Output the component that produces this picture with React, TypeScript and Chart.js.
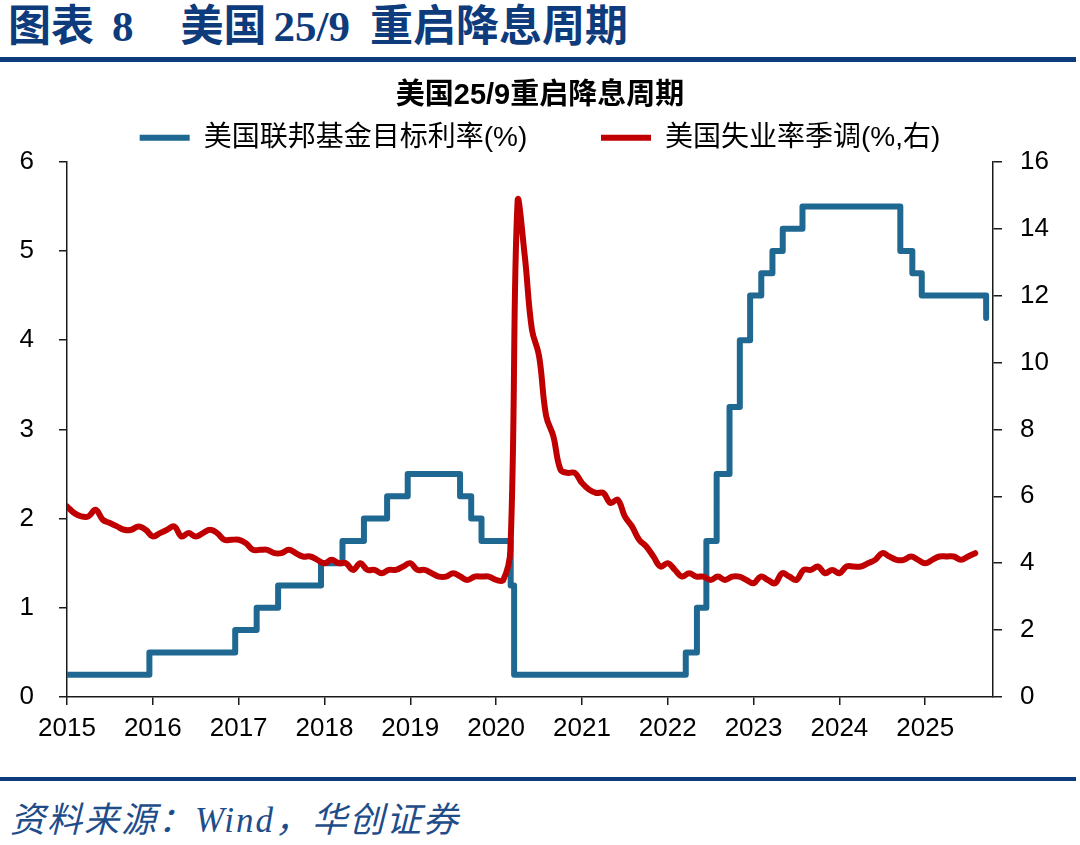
import { useEffect, useRef } from 'react';
import { Chart, registerables } from 'chart.js';

Chart.register(...registerables);

// Fed funds target rate (upper bound, %) — dates of change (decimal years) and new level
const fedChangeDates = [
  2015.0, 2015.96, 2016.96, 2017.21, 2017.46, 2017.96, 2018.21, 2018.46, 2018.73, 2018.97,
  2019.58, 2019.71, 2019.83, 2020.17, 2020.21, 2022.21, 2022.34, 2022.45, 2022.57, 2022.72,
  2022.84, 2022.96, 2023.09, 2023.22, 2023.34, 2023.57, 2024.71, 2024.85, 2024.96, 2025.71,
];
const fedTargetRates = [
  0.25, 0.5, 0.75, 1.0, 1.25, 1.5, 1.75, 2.0, 2.25, 2.5,
  2.25, 2.0, 1.75, 1.25, 0.25, 0.5, 1.0, 1.75, 2.5, 3.25,
  4.0, 4.5, 4.75, 5.0, 5.25, 5.5, 5.0, 4.75, 4.5, 4.25,
];

// US unemployment rate, seasonally adjusted (%), monthly from Jan of each year
const unemp2015 = [5.7, 5.5, 5.4, 5.4, 5.6, 5.3, 5.2, 5.1, 5.0, 5.0, 5.1, 5.0];
const unemp2016 = [4.8, 4.9, 5.0, 5.1, 4.8, 4.9, 4.8, 4.9, 5.0, 4.9, 4.7, 4.7];
const unemp2017 = [4.7, 4.6, 4.4, 4.4, 4.4, 4.3, 4.3, 4.4, 4.3, 4.2, 4.2, 4.1];
const unemp2018 = [4.0, 4.1, 4.0, 4.0, 3.8, 4.0, 3.8, 3.8, 3.7, 3.8, 3.8, 3.9];
const unemp2019 = [4.0, 3.8, 3.8, 3.7, 3.6, 3.6, 3.7, 3.6, 3.5, 3.6, 3.6, 3.6];
const unemp2020 = [3.5, 3.5, 4.4, 14.8, 13.2, 11.0, 10.2, 8.4, 7.8, 6.8, 6.7, 6.7];
const unemp2021 = [6.4, 6.2, 6.1, 6.1, 5.8, 5.9, 5.4, 5.1, 4.7, 4.5, 4.2, 3.9];
const unemp2022 = [4.0, 3.8, 3.6, 3.7, 3.6, 3.6, 3.5, 3.6, 3.5, 3.6, 3.6, 3.5];
const unemp2023 = [3.4, 3.6, 3.5, 3.4, 3.7, 3.6, 3.5, 3.8, 3.8, 3.9, 3.7, 3.8];
const unemp2024 = [3.7, 3.9, 3.9, 3.9, 4.0, 4.1, 4.3, 4.2, 4.1, 4.1, 4.2, 4.1];
const unemp2025 = [4.0, 4.1, 4.2, 4.2, 4.2, 4.1, 4.2, 4.3];

const unempYears = [2015, 2016, 2017, 2018, 2019, 2020, 2021, 2022, 2023, 2024, 2025];
const unempByYear = [
  unemp2015, unemp2016, unemp2017, unemp2018, unemp2019, unemp2020,
  unemp2021, unemp2022, unemp2023, unemp2024, unemp2025,
];

const xMin = 2015;
const xMax = 2025.79;
const leftMin = 0;
const leftMax = 6;
const rightMin = 0;
const rightMax = 16;

const seriesFed = '美国联邦基金目标利率(%)';
const seriesUnemp = '美国失业率季调(%,右)';
const chartTitle = '美国25/9重启降息周期';

const FONT = "'Liberation Sans', 'Noto Sans CJK SC', sans-serif";

export default function App() {
  const canvasRef = useRef<HTMLCanvasElement | null>(null);

  useEffect(() => {
    if (!canvasRef.current) return;
    const fedData = fedChangeDates.map((x, i) => ({ x, y: fedTargetRates[i] }));
    const unempData: { x: number; y: number }[] = [];
    unempYears.forEach((yr, k) => {
      unempByYear[k].forEach((v, m) => unempData.push({ x: yr + m / 12, y: v }));
    });

    const axisColor = '#1a1a1a';
    const chart = new Chart(canvasRef.current, {
      type: 'line',
      data: {
        datasets: [
          {
            label: seriesFed + '\u3000\u3000 ',
            data: fedData,
            yAxisID: 'y',
            stepped: 'before',
            borderColor: '#1f6891',
            backgroundColor: '#1f6891',
            borderWidth: 6,
            pointRadius: 0,
            borderCapStyle: 'round',
            borderJoinStyle: 'round',
            order: 2,
          },
          {
            label: seriesUnemp,
            data: unempData,
            yAxisID: 'y1',
            borderColor: '#c00000',
            backgroundColor: '#c00000',
            borderWidth: 6,
            pointRadius: 0,
            tension: 0.4,
            borderCapStyle: 'round',
            borderJoinStyle: 'round',
            order: 1,
          },
        ],
      },
      options: {
        responsive: false,
        animation: false,
        parsing: false,
        events: [],
        layout: { padding: 0 },
        plugins: {
          tooltip: { enabled: false },
          title: {
            display: true,
            text: chartTitle,
            color: '#000',
            font: { family: FONT, size: 29, weight: 'bold' },
            padding: { top: 19, bottom: 0 },
          },
          legend: {
            display: true,
            position: 'top',
            labels: {
              color: '#000',
              font: { family: FONT, size: 28 },
              usePointStyle: true,
              pointStyle: 'line',
              pointStyleWidth: 50,
              padding: 10,
              sort: (a: any, b: any) => a.datasetIndex - b.datasetIndex,
            },
          },
        },
        scales: {
          x: {
            type: 'linear',
            min: xMin,
            max: xMax,
            ticks: {
              stepSize: 1,
              includeBounds: false,
              autoSkip: false,
              maxRotation: 0,
              color: '#000',
              font: { family: FONT, size: 26 },
              padding: 8,
              callback: (v: any) => String(v),
            },
            grid: { drawOnChartArea: false, drawTicks: true, tickLength: 8, color: axisColor, lineWidth: 1.5 },
            border: { display: true, color: axisColor, width: 1.5 },
            afterFit: (s: any) => { s.height = 78; },
          },
          y: {
            type: 'linear',
            position: 'left',
            min: leftMin,
            max: leftMax,
            ticks: {
              stepSize: 1,
              color: '#000',
              font: { family: FONT, size: 26 },
              padding: 25,
            },
            grid: { drawOnChartArea: false, drawTicks: true, tickLength: 8, color: axisColor, lineWidth: 1.5 },
            border: { display: true, color: axisColor, width: 1.5 },
            afterFit: (s: any) => { s.width = 67; },
          },
          y1: {
            type: 'linear',
            position: 'right',
            min: rightMin,
            max: rightMax,
            ticks: {
              stepSize: 2,
              color: '#000',
              font: { family: FONT, size: 26 },
              padding: 18,
            },
            grid: { drawOnChartArea: false, drawTicks: true, tickLength: 9, color: axisColor, lineWidth: 1.5 },
            border: { display: true, color: axisColor, width: 1.5 },
            afterFit: (s: any) => { s.width = 87; },
          },
        },
      },
    } as any);
    return () => chart.destroy();
  }, []);

  const navy = '#0e3b7c';
  return (
    <div style={{ position: 'absolute', left: 0, top: 0, width: 1080, height: 845, background: '#fff', overflow: 'hidden' }}>
      <div
        style={{
          position: 'absolute', left: 8, top: 2, height: 50, lineHeight: '50px', whiteSpace: 'nowrap',
          fontFamily: "'Liberation Serif', 'Noto Sans CJK SC', serif", fontWeight: 'bold', fontSize: 43, color: navy,
        }}
      >
        <span>图表</span>
        <span style={{ marginLeft: 18 }}>8</span>
        <span style={{ marginLeft: 47 }}>美国</span>
        <span style={{ marginLeft: 7 }}>25/9</span>
        <span style={{ marginLeft: 20 }}>重启降息周期</span>
      </div>
      <div style={{ position: 'absolute', left: 0, top: 57, width: 1076, height: 5, background: navy }} />
      <canvas
        ref={canvasRef}
        width={1080}
        height={715}
        style={{ position: 'absolute', left: 0, top: 60, width: 1080, height: 715 }}
      />
      <div style={{ position: 'absolute', left: 0, top: 777, width: 1076, height: 4, background: navy }} />
      <div
        style={{
          position: 'absolute', left: 10, top: 800, lineHeight: '42px', whiteSpace: 'nowrap', letterSpacing: 2,
          fontFamily: "'Liberation Serif', 'Noto Sans CJK SC', serif", fontStyle: 'italic', fontSize: 35, color: '#1f4d8a',
        }}
      >
        资料来源：Wind，华创证券
      </div>
    </div>
  );
}
